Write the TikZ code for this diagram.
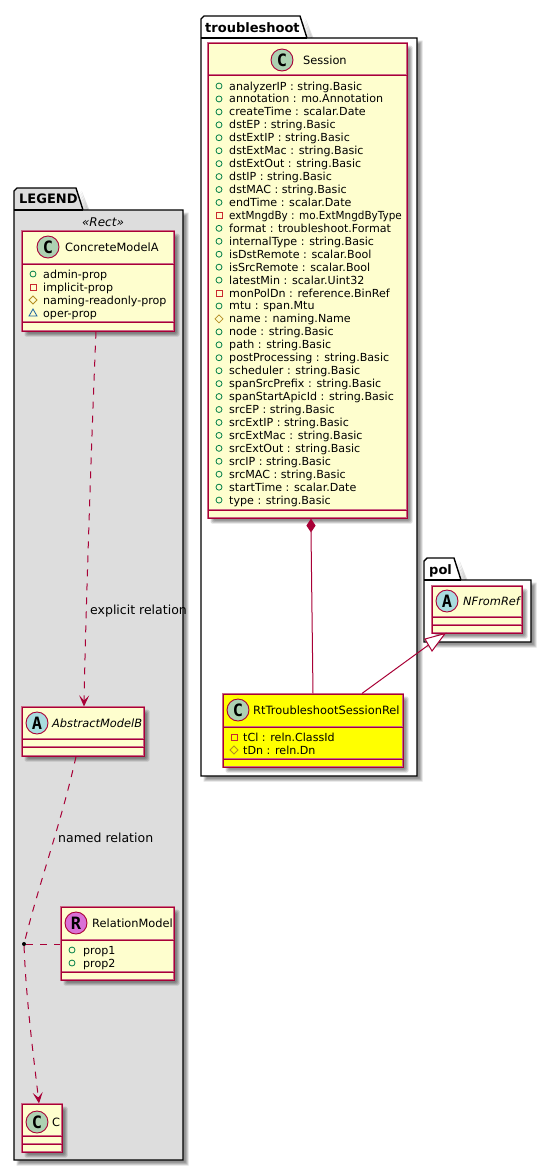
\documentclass[tikz,border=0pt]{standalone}
\usepackage{fontspec}
\usepackage{graphicx}
\setmainfont{DejaVu Sans}
\setmonofont{DejaVu Sans Mono}
\usetikzlibrary{arrows.meta,calc}
\definecolor{umlborder}{HTML}{A80036}
\definecolor{umlfill}{HTML}{FEFECE}
\definecolor{umlyellow}{HTML}{FFFF00}
\definecolor{spotC}{HTML}{ADD1B2}
\definecolor{spotA}{HTML}{A9DCDF}
\definecolor{spotR}{HTML}{DA70D6}
\definecolor{legendfill}{HTML}{DDDDDD}
\definecolor{mkpub}{HTML}{038048}
\definecolor{mkpriv}{HTML}{C82930}
\definecolor{mkprot}{HTML}{B38D22}
\definecolor{mkpkg}{HTML}{1963A0}
\tikzset{
  classbox/.style={draw=umlborder!60!white,line width=1.15pt,rectangle,inner sep=0pt},
  classcore/.style={draw=umlborder,line width=1pt},
  classline/.style={draw=umlborder!60!white,line width=1.15pt},
  spot/.style={circle,draw=umlborder,line width=.9pt,minimum size=22pt,inner sep=0pt,font=\fontsize{17}{17}\selectfont\ttfamily\bfseries},
  title/.style={anchor=base west,inner sep=0pt,font=\fontsize{11.4}{12}\selectfont},
  ititle/.style={anchor=base west,inner sep=0pt,font=\fontsize{11.4}{12}\selectfont\itshape},
  attr/.style={anchor=base west,inner sep=0pt,font=\fontsize{11.1}{12}\selectfont},
  pkgname/.style={anchor=base west,inner sep=0pt,font=\fontsize{13}{14}\selectfont\bfseries},
  pkgline/.style={draw=black,line width=1.4pt,line join=miter},
  rel/.style={draw=umlborder,line width=1pt},
  reldash/.style={rel,dash pattern=on 7pt off 7pt},
  opentip/.style={-{Stealth[length=11pt,width=10pt,inset=5pt,umlborder]}},
  lbl/.style={anchor=base west,inner sep=0pt,font=\fontsize{12.5}{13}\selectfont},
  shadowlayer/.style={fill=black,fill opacity=0.13,draw=none},
}
\newcommand\softshadow[4]{%
  \foreach \g in {1.5,0.5,-0.5,-1.5}{
    \fill[shadowlayer,rounded corners=1.5pt] ({#1+4-\g},{#2+4-\g}) rectangle ({#3+4+\g},{#4+4+\g});
  }}
\newcommand\umlbox[8]{%
  \softshadow{#2}{#3}{#4}{#5}%
  \pgfmathsetmacro\cwd{#4-#2}\pgfmathsetmacro\cht{#5-#3}%
  \pgfmathsetmacro\ccx{(#4+#2)/2}\pgfmathsetmacro\ccy{(#5+#3)/2}%
  \node[classbox,fill=#6,minimum width=\cwd pt,minimum height=\cht pt] (#1) at (\ccx,\ccy) {};
  \draw[classline] (#2,#7) -- (#4,#7);
  \draw[classline] (#2,#8) -- (#4,#8);
  \draw[classcore] (#2,#7) -- (#4,#7);
  \draw[classcore] (#2,#8) -- (#4,#8);
  \draw[classcore] (#2,#3) rectangle (#4,#5);
}
\newcommand\umlhead[9]{%
  \node[spot,fill=#5] (#1spot) at (#2,#3) {#4};
  \node[#8] (#1title) at (#6,#7) {#9};
}
\newcommand\mkpub[2]{\draw[mkpub,line width=.8pt] (#1,#2) circle (3pt);}
\newcommand\mkpriv[2]{\draw[mkpriv,line width=.8pt] ({#1-3},{#2-3}) rectangle ({#1+3},{#2+3});}
\newcommand\mkprot[2]{\draw[mkprot,line width=.8pt] ({#1-4},#2) -- (#1,{#2-4}) -- ({#1+4},#2) -- (#1,{#2+4}) -- cycle;}
\newcommand\mkpkg[2]{\draw[mkpkg,line width=.8pt] ({#1-4},{#2+3}) -- (#1,{#2-4}) -- ({#1+4},{#2+3}) -- cycle;}
\newcommand\pkgshape[8]{% fill,x1,ytop,tabx,ybody,x2,ybot,tabslant end
  \foreach \g in {1.5,0.5,-0.5,-1.5}{
    \fill[shadowlayer] ({#2+4-\g},{#5+4}) -- ({#8+4+\g},{#5+4}) -- ({#4+4+\g},{#3+4-\g}) -- ({#8+6+\g},{#5+4-\g}) -- ({#6+4+\g},{#5+4-\g}) -- ({#6+4+\g},{#7+4+\g}) -- ({#2+4-\g},{#7+4+\g}) -- cycle;
  }
  \draw[pkgline,fill=#1] (#2,#5) -- (#2,{#3+3}) -- ({#2+3},#3) -- (#4,#3) -- (#8,#5) -- (#6,#5) -- (#6,#7) -- (#2,#7) -- cycle;
  \draw[pkgline] (#2,#5) -- (#8,#5);
}
\begin{document}
\begin{tikzpicture}[x=1pt,y=-1pt]
\useasboundingbox[fill=white] (0,0) rectangle (551,1171);

% packages
\pkgshape{legendfill}{14}{188}{76}{210}{183}{1160}{83}
\node[pkgname] (legendname) at (19,203) {LEGEND};
\node[anchor=base,inner sep=0pt,font=\fontsize{12}{12}\selectfont\itshape] (stereo) at (103,226) {«Rect»};
\pkgshape{white}{201}{16}{300}{38}{417}{776}{307}
\node[pkgname] (troublename) at (205,32) {troubleshoot};
\pkgshape{white}{424}{558}{454}{580}{531}{642}{461}
\node[pkgname] (polname) at (429,574) {pol};

\umlbox{concrete}{22}{231}{174}{331}{umlfill}{264}{322}
\umlhead{concrete}{48}{247}{C}{spotC}{65}{251}{title}{ConcreteModelA}
\foreach \m/\t [count=\i from 0] in {pub/admin-prop,priv/implicit-prop,prot/naming-readonly-prop,pkg/oper-prop}{
  \pgfmathsetmacro\ry{274+13*\i}
  \csname mk\m\endcsname{33}{\ry}
  \node[attr] (cattr\i) at (43,\ry+4) {\t};
}

\umlbox{abstract}{22}{707}{144}{756}{umlfill}{739}{747}
\umlhead{abstract}{37}{723}{A}{spotA}{52}{727}{ititle}{AbstractModelB}

\umlbox{relation}{61}{907}{174}{980}{umlfill}{940}{972}
\umlhead{relation}{76}{923}{R}{spotR}{92}{927}{title}{RelationModel}
\foreach \t [count=\i from 0] in {prop1,prop2}{
  \pgfmathsetmacro\ry{950+13*\i}
  \mkpub{72}{\ry}
  \node[attr] (rattr\i) at (83,\ry+4) {\t};
}

\umlbox{cmodel}{22}{1104}{62}{1152}{umlfill}{1136}{1144}
\umlhead{cmodel}{37}{1122}{C}{spotC}{52}{1126}{title}{C}

\umlbox{session}{208}{43}{407}{518}{umlfill}{75}{510}
\umlhead{session}{282}{60}{C}{spotC}{303}{64}{title}{Session}
\foreach \m/\t [count=\i from 0] in {
 pub/analyzerIP : string.Basic,
 pub/annotation : mo.Annotation,
 pub/createTime : scalar.Date,
 pub/dstEP : string.Basic,
 pub/dstExtIP : string.Basic,
 pub/dstExtMac : string.Basic,
 pub/dstExtOut : string.Basic,
 pub/dstIP : string.Basic,
 pub/dstMAC : string.Basic,
 pub/endTime : scalar.Date,
 priv/{\scalebox{.94}[1]{extMngdBy : mo.ExtMngdByType}},
 pub/format : troubleshoot.Format,
 pub/internalType : string.Basic,
 pub/isDstRemote : scalar.Bool,
 pub/isSrcRemote : scalar.Bool,
 pub/latestMin : scalar.Uint32,
 priv/monPolDn : reference.BinRef,
 pub/mtu : span.Mtu,
 prot/name : naming.Name,
 pub/node : string.Basic,
 pub/path : string.Basic,
 pub/postProcessing : string.Basic,
 pub/scheduler : string.Basic,
 pub/spanSrcPrefix : string.Basic,
 pub/spanStartApicId : string.Basic,
 pub/srcEP : string.Basic,
 pub/srcExtIP : string.Basic,
 pub/srcExtMac : string.Basic,
 pub/srcExtOut : string.Basic,
 pub/srcIP : string.Basic,
 pub/srcMAC : string.Basic,
 pub/startTime : scalar.Date,
 pub/type : string.Basic}{
  \pgfmathsetmacro\ry{86+12.94*\i}
  \csname mk\m\endcsname{219}{\ry}
  \node[attr] (sattr\i) at (229,\ry+4) {\t};
}

\umlbox{rt}{223}{694}{403}{767}{umlyellow}{727}{759}
\umlhead{rt}{238}{710}{C}{spotC}{253}{714}{title}{RtTroubleshootSessionRel}
\foreach \m/\t [count=\i from 0] in {priv/tCl : reln.ClassId,prot/tDn : reln.Dn}{
  \pgfmathsetmacro\ry{737+13*\i}
  \csname mk\m\endcsname{234}{\ry}
  \node[attr] (rtattr\i) at (243,\ry+4) {\t};
}

\umlbox{nfrom}{432}{586}{522}{633}{umlfill}{617}{625}
\umlhead{nfrom}{447}{601}{A}{spotA}{463}{605}{ititle}{NFromRef}

% connectors
\draw[reldash,opentip] ([xshift=-2pt]concrete.south) .. controls (91,450) and (85,640) .. ([xshift=1pt]abstract.north);
\node[lbl] (explicit) at (90,614) {explicit relation};
\node[circle,fill=black,inner sep=0pt,minimum size=4pt] (assoc) at (24,944) {};
\draw[reldash] ([xshift=-7pt]abstract.south) .. controls (62,820) and (40,880) .. (assoc);
\draw[reldash,opentip] (assoc) .. controls (26,1000) and (34,1060) .. ([xshift=-3pt]cmodel.north);
\draw[reldash] (assoc) -- (relation.west |- assoc);
\node[lbl] (named) at (58,842) {named relation};
\draw[rel,fill=umlborder] ([xshift=3.5pt]session.south) ++(0,1) coordinate (dtop) -- ++(4,6) -- ++(-4,6) coordinate (dbot) -- ++(-4,-6) -- cycle;
\draw[rel] (dbot) -- (rt.north);
\coordinate (gentip) at ([xshift=-32pt]nfrom.south);
\coordinate (genbase) at (428.5,645);
\draw[rel] ([xshift=49pt]rt.north) -- (genbase);
\draw[rel,fill=white] (gentip) -- (425,639) -- (432,651) -- cycle;
\end{tikzpicture}
\end{document}
